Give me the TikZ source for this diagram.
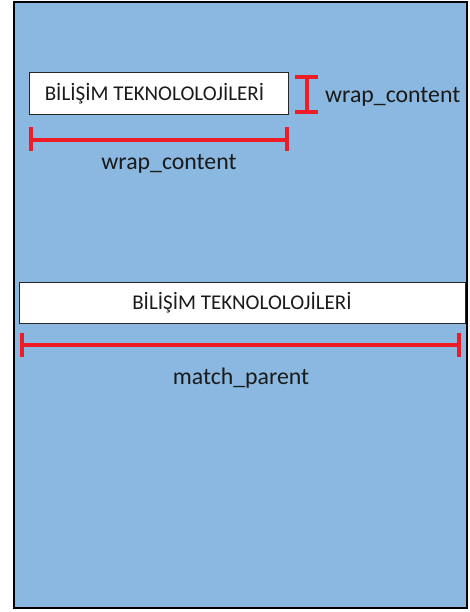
\documentclass[tikz,border=0pt]{standalone}
\usepackage{fontspec}
\setmainfont{Carlito}
\definecolor{bg}{HTML}{8AB8E0}
\definecolor{barred}{HTML}{EE1C25}
\definecolor{txt}{HTML}{1A1A1A}
\begin{document}
\begin{tikzpicture}[x=1pt,y=-1pt,
  frame/.style={draw=black,line width=2pt,fill=bg},
  tbox/.style={draw=black!85,line width=1pt,fill=white,inner sep=0pt,text=txt,font=\fontsize{21}{24}\selectfont},
  dimbar/.style={draw=barred,line width=4pt},
  lbl/.style={text=txt,font=\fontsize{23.8}{28}\selectfont,inner sep=0pt}]
\useasboundingbox (0,0) rectangle (470,612);
\fill[white] (0,0) rectangle (470,612);
\draw[frame] (14,2) rectangle (467,608);
% first box
\node[tbox,minimum width=259pt,minimum height=42pt] (b1) at (158.5,94) {BİLİŞİM TEKNOLOLOJİLERİ\kern8pt};
% vertical I-bar
\coordinate (vt) at (307,77);
\coordinate (vb) at (307,112);
\draw[dimbar] (vt) -- (vb);
\draw[dimbar] (295,77) -- (318,77);
\draw[dimbar] (295,112) -- (318,112);
\node[lbl,anchor=west] (l1) at (325,97) {wrap\_content};
% horizontal bar 1
\coordinate (h1a) at (31,140);
\coordinate (h1b) at (287,140);
\draw[dimbar] (h1a) -- (h1b);
\draw[dimbar] (31,127) -- (31,151);
\draw[dimbar] (287,127) -- (287,151);
\node[lbl] (l2) at (169,164) {wrap\_content};
% second box
\node[tbox,minimum width=446pt,minimum height=41pt] (b2) at (242,302.5) {BİLİŞİM TEKNOLOLOJİLERİ};
% horizontal bar 2
\coordinate (h2a) at (22,345);
\coordinate (h2b) at (459,345);
\draw[dimbar] (h2a) -- (h2b);
\draw[dimbar] (22,333) -- (22,357);
\draw[dimbar] (459,333) -- (459,357);
\node[lbl] (l3) at (241,378) {match\_parent};
\end{tikzpicture}
\end{document}
